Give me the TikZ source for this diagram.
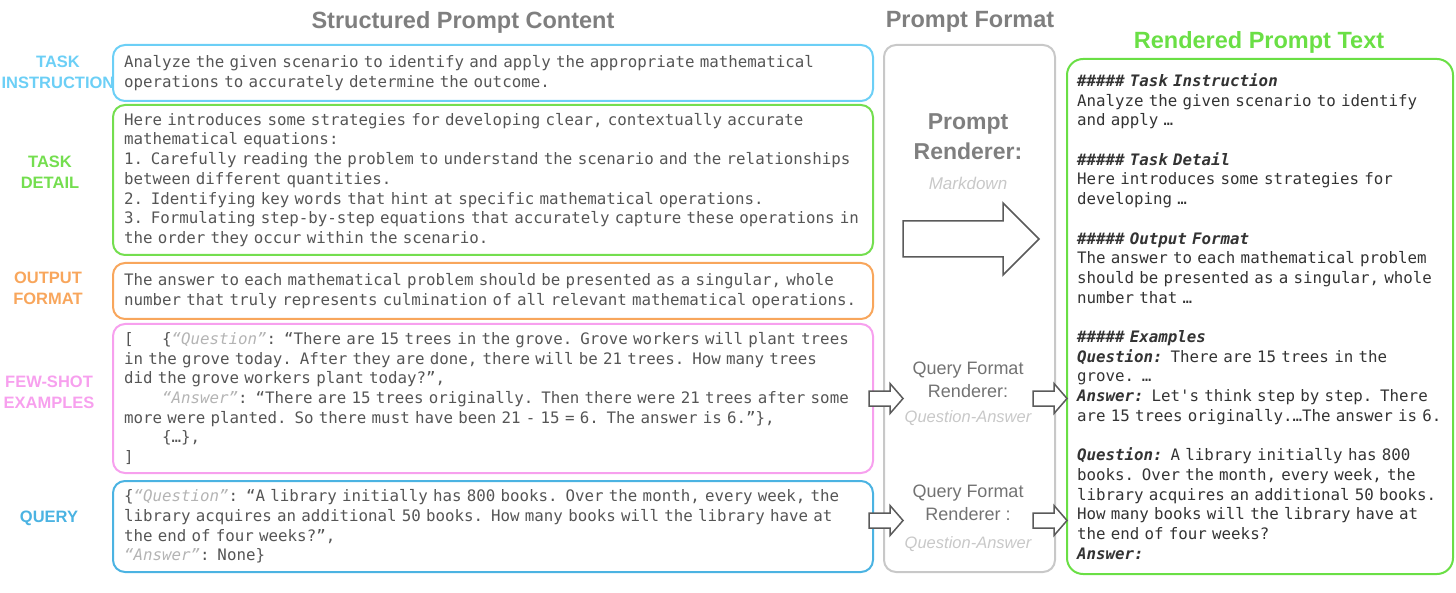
\documentclass[tikz,border=0pt]{standalone}
\usepackage{fontspec}
\setmainfont{Liberation Sans}
\setmonofont{DejaVu Sans Mono}
\usetikzlibrary{calc}
\definecolor{instblue}{HTML}{6CCFF6}
\definecolor{detgreen}{HTML}{74DE4F}
\definecolor{outorange}{HTML}{F8A65C}
\definecolor{shotpink}{HTML}{F7A0EE}
\definecolor{queryblue}{HTML}{4BB3E2}
\definecolor{rendgreen}{HTML}{6ADF45}
\definecolor{headgray}{HTML}{7F7F7F}
\definecolor{fmtgray}{HTML}{C8C8C8}
\definecolor{keygray}{HTML}{B4B4B4}
\definecolor{bodygray}{HTML}{555555}
\definecolor{rendtext}{HTML}{333333}
\definecolor{arrgray}{HTML}{5A5A5A}

\newcommand{\gap}[1]{\hspace*{#1\fontcharwd\font`x}}
\newcommand{\qk}[1]{{\color{keygray}\itshape “#1”}}
\newcommand{\hd}[1]{{\bfseries\itshape\#\#\#\#\# #1}}
\newcommand{\qa}[1]{{\bfseries\itshape #1}}
\newcommand{\blockarrow}[5]{\draw[blockarr] (#1) ++(0,-#3) -- ++({#2-#5},0) -- ++(0,{#3-#4}) -- ++(#5,#4) -- ++(-#5,#4) -- ++(0,{#3-#4}) -- ++({#5-#2},0) -- cycle;}

\begin{document}
\begin{tikzpicture}[x=1pt, y=-1pt,
    box/.style={draw, rounded corners=12pt, line width=2pt, anchor=north west,
        minimum width=760pt, text width=738pt, inner xsep=11pt, align=left,
        text=bodygray, font=\ttfamily\fontsize{15.8}{19.7}\selectfont},
    lbl/.style={font=\bfseries\fontsize{16.5}{21}\selectfont, align=center},
    title/.style={font=\bfseries\fontsize{23.5}{28}\selectfont, text=headgray},
    qfr/.style={font=\fontsize{18}{22.5}\selectfont, text=headgray!90!black, align=center},
    qsub/.style={font=\itshape\fontsize{16.5}{20}\selectfont, text=fmtgray},
    blockarr/.style={draw=arrgray, line width=1.5pt, fill=white}]
    \useasboundingbox (0,0) rectangle (1456,593);

    \node[title] (ttlcontent) at (463,22) {Structured Prompt Content};
    \node[title] (ttlformat) at (970,22) {Prompt Format};
    \node[title, text=rendgreen] (ttlrend) at (1259,42) {Rendered Prompt Text};

    \node[lbl, text=instblue] (instlbl) at (58,72) {TASK\\INSTRUCTION};
    \node[lbl, text=detgreen] (detlbl) at (50,172) {TASK\\DETAIL};
    \node[lbl, text=outorange] (outlbl) at (48,288) {OUTPUT\\FORMAT};
    \node[lbl, text=shotpink] (shotlbl) at (49,392) {FEW-SHOT\\EXAMPLES};
    \node[lbl, text=queryblue] (querylbl) at (49,518) {QUERY};

    \node[box, draw=instblue, minimum height=56pt] (inst) at (112,44)
        {Analyze the given scenario to identify and apply the appropriate mathematical\\
        operations to accurately determine the outcome.};
    \node[box, draw=detgreen, minimum height=150pt] (detail) at (112,104)
        {Here introduces some strategies for developing clear, contextually accurate\\
        mathematical equations:\\
        1. Carefully reading the problem to understand the scenario and the relationships\\
        between different quantities.\\
        2. Identifying key words that hint at specific mathematical operations.\\
        3. Formulating step-by-step equations that accurately capture these operations in\\
        the order they occur within the scenario.};
    \node[box, draw=outorange, minimum height=56pt] (outfmt) at (112,262)
        {The answer to each mathematical problem should be presented as a singular, whole\\
        number that truly represents culmination of all relevant mathematical operations.};
    \node[box, draw=shotpink, minimum height=149pt] (shots) at (112,323)
        {[\gap{3}\{\qk{Question}: “There are 15 trees in the grove. Grove workers will plant trees\\
        in the grove today. After they are done, there will be 21 trees. How many trees\\
        did the grove workers plant today?”,\\
        \gap{4}\qk{Answer}: “There are 15 trees originally. Then there were 21 trees after some\\
        more were planted. So there must have been 21 - 15 = 6. The answer is 6.”\},\\
        \gap{4}\{…\},\\
        ]};
    \node[box, draw=queryblue, minimum height=91pt] (query) at (112,480)
        {\{\qk{Question}: “A library initially has 800 books. Over the month, every week, the\\
        library acquires an additional 50 books. How many books will the library have at\\
        the end of four weeks?”,\\
        \qk{Answer}: None\}};

    \node[draw=fmtgray, line width=2pt, rounded corners=12pt, anchor=north west,
        minimum width=171pt, minimum height=527pt] (fmt) at (883,44) {};
    \node[font=\bfseries\fontsize{23}{30}\selectfont, text=headgray, align=center] (prend) at (968,137) {Prompt\\Renderer:};
    \node[font=\itshape\fontsize{17}{20}\selectfont, text=fmtgray] (md) at (968,183) {Markdown};
    \node[qfr] (qfr1) at (968,380) {Query Format\\Renderer:};
    \node[qsub] (qa1) at (968,418) {Question-Answer};
    \node[qfr] (qfr2) at (968,503) {Query Format\\Renderer :};
    \node[qsub] (qa2) at (968,544) {Question-Answer};

    \node[box, draw=rendgreen, rounded corners=16pt, minimum width=386pt, text width=366pt,
        inner xsep=10pt, minimum height=515pt, text=rendtext] (rend) at (1066,58)
        {\hd{Task Instruction}\\
        Analyze the given scenario to identify\\
        and apply …\\[19.7pt]
        \hd{Task Detail}\\
        Here introduces some strategies for\\
        developing …\\[19.7pt]
        \hd{Output Format}\\
        The answer to each mathematical problem\\
        should be presented as a singular, whole\\
        number that …\\[19.7pt]
        \hd{Examples}\\
        \qa{Question:} There are 15 trees in the\\
        grove. …\\
        \qa{Answer:} Let's think step by step. There\\
        are 15 trees originally.…The answer is 6.\\[19.7pt]
        \qa{Question:} A library initially has 800\\
        books. Over the month, every week, the\\
        library acquires an additional 50 books.\\
        How many books will the library have at\\
        the end of four weeks?\\
        \qa{Answer:}};

    \coordinate (bigtail) at (903,239);
    \coordinate (shotsout) at ($(shots.east)+(-5,0)$);
    \coordinate (shotsin) at ($(rend.west |- shots.east)+(-33,0)$);
    \coordinate (queryout) at ($(query.east)+(-5,-6)$);
    \coordinate (queryin) at ($(rend.west |- query.east)+(-33,-6)$);
    \blockarrow{bigtail}{136}{18}{36}{36}
    \blockarrow{shotsout}{34}{7.5}{15}{13}
    \blockarrow{shotsin}{34}{7.5}{15}{13}
    \blockarrow{queryout}{34}{7.5}{15}{13}
    \blockarrow{queryin}{34}{7.5}{15}{13}
\end{tikzpicture}
\end{document}
